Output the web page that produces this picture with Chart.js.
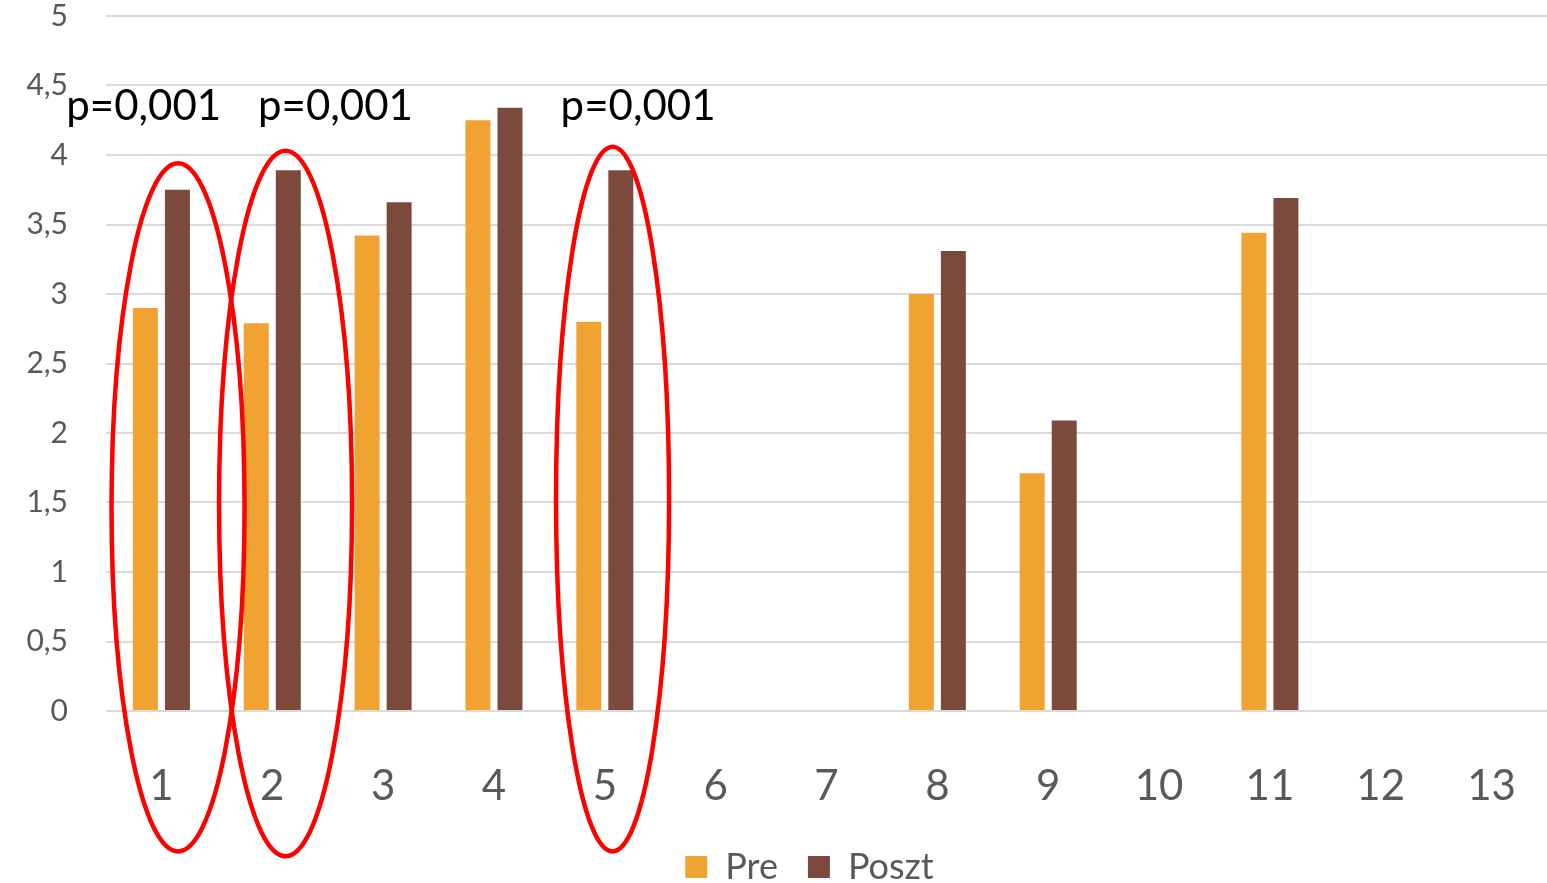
<!DOCTYPE html>
<html>
<head>
<meta charset="utf-8">
<script src="https://cdn.jsdelivr.net/npm/chart.js@4/dist/chart.umd.min.js"></script>
<style>
html,body{margin:0;padding:0;background:#fff;}
#wrap{width:1547px;height:883px;position:relative;}
</style>
</head>
<body>
<div id="wrap"><canvas id="c" width="1547" height="883"></canvas></div>
<script>
const categories = ['1','2','3','4','5','6','7','8','9','10','11','12','13'];
const preValues = [2.9, 2.79, 3.42, 4.25, 2.8, null, null, 3.0, 1.71, null, 3.44, null, null];
const posztValues = [3.75, 3.89, 3.66, 4.34, 3.89, null, null, 3.31, 2.09, null, 3.69, null, null];
const yTicks = ['0','0,5','1','1,5','2','2,5','3','3,5','4','4,5','5'];
const seriesNames = ['Pre', 'Poszt'];
const pLabel = 'p=0,001';
// annotations: category index, offset, text position
const marks = [
  {idx:0, ex:0.15, rx:0.6, yTop:3.94, yBot:-1.01, tx:-0.16},
  {idx:1, ex:0.12, rx:0.6, yTop:4.03, yBot:-1.045, tx:0.57},
  {idx:4, ex:0.07, rx:0.51, yTop:4.06, yBot:-1.01, tx:0.3}
];

const FONT = 'Lato, "Open Sans", sans-serif';

const legendShift = {
  id: 'legendShift',
  afterLayout(chart){
    const lg = chart.legend;
    if (lg) { lg.left += 36; lg.right += 36; }
  }
};

const annotPlugin = {
  id: 'annot',
  afterDraw(chart){
    const ctx = chart.ctx, xs = chart.scales.x, ys = chart.scales.y;
    const unit = xs.getPixelForValue(1) - xs.getPixelForValue(0);
    ctx.save();
    marks.forEach(m => {
      const cx = xs.getPixelForValue(m.idx) + m.ex*unit;
      const top = ys.getPixelForValue(m.yTop), bot = ys.getPixelForValue(m.yBot);
      ctx.beginPath();
      ctx.ellipse(cx, (top+bot)/2, m.rx*unit, (bot-top)/2, 0, 0, Math.PI*2);
      ctx.strokeStyle = '#ff0000';
      ctx.lineWidth = 4.5;
      ctx.stroke();
      ctx.fillStyle = '#000';
      ctx.font = '42px ' + FONT;
      ctx.textAlign = 'center';
      ctx.textBaseline = 'middle';
      ctx.fillText(pLabel, xs.getPixelForValue(m.idx) + m.tx*unit, ys.getPixelForValue(4.35));
    });
    ctx.restore();
  }
};

new Chart(document.getElementById('c'), {
  type: 'bar',
  data: {
    labels: categories,
    datasets: [
      {label: seriesNames[0], data: preValues, backgroundColor: '#F0A330', barPercentage: 0.78, categoryPercentage: 0.578},
      {label: seriesNames[1], data: posztValues, backgroundColor: '#7B4A3C', barPercentage: 0.78, categoryPercentage: 0.578}
    ]
  },
  options: {
    responsive: false,
    animation: false,
    layout: {padding: {top: 16, right: 0, bottom: -12, left: 0}},
    plugins: {
      legend: {
        position: 'bottom',
        labels: {boxWidth: 22, boxHeight: 22, color: '#595959', font: {size: 36, family: FONT}, padding: 30}
      },
      tooltip: {enabled: false}
    },
    scales: {
      x: {
        afterFit(s){ s.height = 108; s.paddingLeft = 0; s.paddingRight = 0; s.paddingTop = 0; s.paddingBottom = 0; },
        grid: {display: false},
        border: {display: false},
        ticks: {color: '#595959', font: {size: 42, family: FONT}, padding: 42, maxRotation: 0, autoSkip: false}
      },
      y: {
        min: 0, max: 5,
        afterFit(s){ s.width = 106; s.paddingTop = 0; s.paddingBottom = 0; },
        grid: {color: '#d9d9d9', lineWidth: 2, drawTicks: false},
        border: {display: false},
        ticks: {
          stepSize: 0.5, color: '#595959', font: {size: 30, family: FONT}, padding: 38,
          callback: (v, i) => yTicks[i]
        }
      }
    }
  },
  plugins: [annotPlugin, legendShift]
});
</script>
</body>
</html>
